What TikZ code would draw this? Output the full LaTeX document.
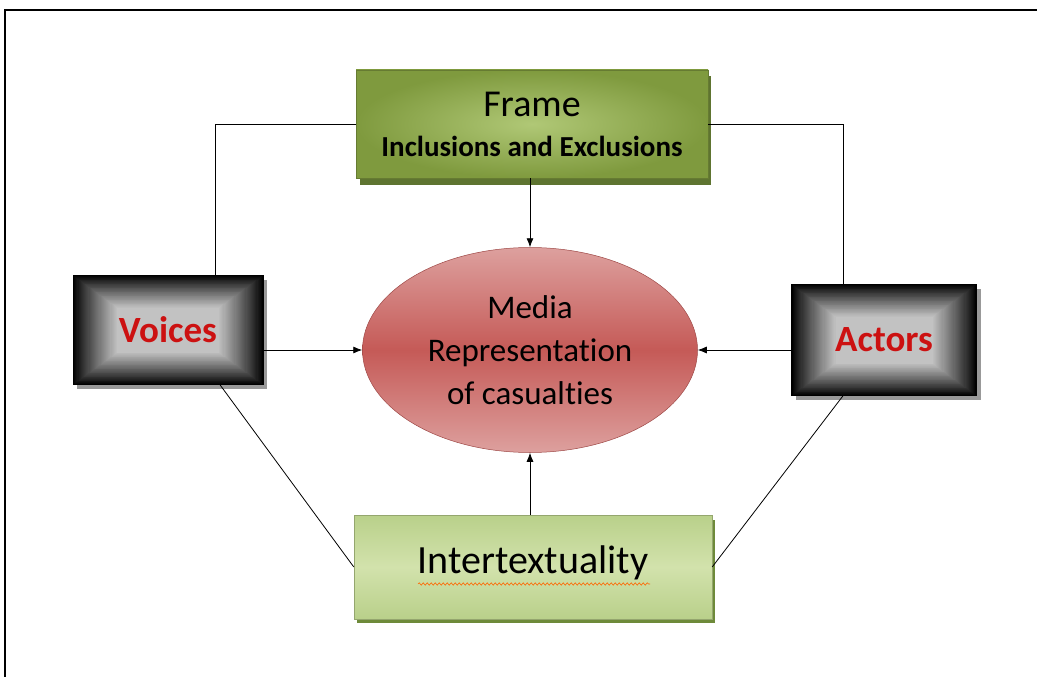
\documentclass[tikz,border=0pt]{standalone}
\usepackage{fontspec}
\setmainfont{Carlito}[Ligatures=NoCommon]
\usetikzlibrary{arrows.meta,shapes.geometric,decorations.pathmorphing}
\definecolor{framegreenO}{HTML}{7F9A3E}
\definecolor{framegreenI}{HTML}{B0C876}
\definecolor{framesh}{HTML}{5E7430}
\definecolor{intgreenO}{HTML}{B9D08A}
\definecolor{intgreenI}{HTML}{D2E2AC}
\definecolor{intsh}{HTML}{6E8A3A}
\definecolor{redtop}{HTML}{DDA09E}
\definecolor{redmid}{HTML}{C55A57}
\definecolor{txtred}{HTML}{CC1111}
\tikzset{
  conn/.style={draw=black,line width=0.8pt},
  arr/.style={conn,-{Latex[length=9pt,width=7pt]}},
  greenbox/.style={rectangle,inner color=framegreenI,outer color=framegreenO,draw=framegreenO!80!black,line width=0.4pt},
  intbox/.style={rectangle,top color=intgreenO,bottom color=intgreenO,middle color=intgreenI,draw=intgreenO!80!black,line width=0.4pt},
  blackbox/.style={rectangle,draw=black,line width=0.6pt,font=\fontsize{37}{40}\selectfont\bfseries,text=txtred,
    path picture={
      \foreach \i in {0,...,40}{
        \pgfmathsetmacro{\p}{100-76*(\i/40)^0.9}
        \fill[black!\p] ([xshift=\i*1.1pt,yshift=-\i*0.8pt]path picture bounding box.north west)
              rectangle ([xshift=-\i*1.1pt,yshift=\i*0.8pt]path picture bounding box.south east);
      }
    }},
  mediaell/.style={ellipse,top color=redtop,bottom color=redtop,middle color=redmid,draw=redmid!80!black,line width=0.5pt,align=center,font=\fontsize{33}{43}\selectfont}
}
\begin{document}
\begin{tikzpicture}[x=1pt,y=-1pt]
\useasboundingbox (0,0) rectangle (1037,677);
\fill[white] (0,0) rectangle (1037,677);
% page border
\draw[line width=1.4pt] (5,677) -- (5,10) -- (1037,10);
% shadows
\fill[framesh] (360,76) rectangle (711,185);
\fill[intsh] (357,520) rectangle (715,623);
\fill[black!40] (77,280) rectangle (267,389);
\fill[black!40] (796,289) rectangle (981,400);
% nodes
\node[greenbox,minimum width=352,minimum height=108] (frame) at (532,124) {};
\node (frametitle) at (532,104) {\fontsize{38}{40}\selectfont Frame};
\node (framesub) at (532,146) {\fontsize{29}{31}\selectfont\bfseries Inclusions and Exclusions};
\node[blackbox,minimum width=190,minimum height=109] (voices) at (168,330) {Voices};
\node[blackbox,minimum width=185,minimum height=111] (actors) at (884,340) {Actors};
\node[mediaell,minimum width=335,minimum height=205,inner sep=0pt] (media) at (530,350) {Media\\Representation\\of casualties};
\node[intbox,minimum width=358,minimum height=104] (inter) at (533,567) {};
\node (intertext) at (533,563) {\fontsize{40}{42}\selectfont Intertextuality};
\draw[draw=orange!80!red,line width=0.6pt,decorate,decoration={snake,amplitude=1.2pt,segment length=4pt}] (418,584) -- (650,584);
% connectors
\draw[conn] (frame.west) -| ([xshift=47pt]voices.north);
\draw[conn] (frame.east) -| ([xshift=-41pt]actors.north);
\draw[arr] (frame.south -| media.north) -- (media.north);
\draw[arr] (voices.east |- media.west) -- (media.west);
\draw[arr] (actors.west |- media.east) -- (media.east);
\draw[arr] (inter.north -| media.south) -- (media.south);
\draw[conn] ([xshift=52pt]voices.south) -- (inter.west);
\draw[conn] ([xshift=-41pt]actors.south) -- (inter.east);
\end{tikzpicture}
\end{document}
